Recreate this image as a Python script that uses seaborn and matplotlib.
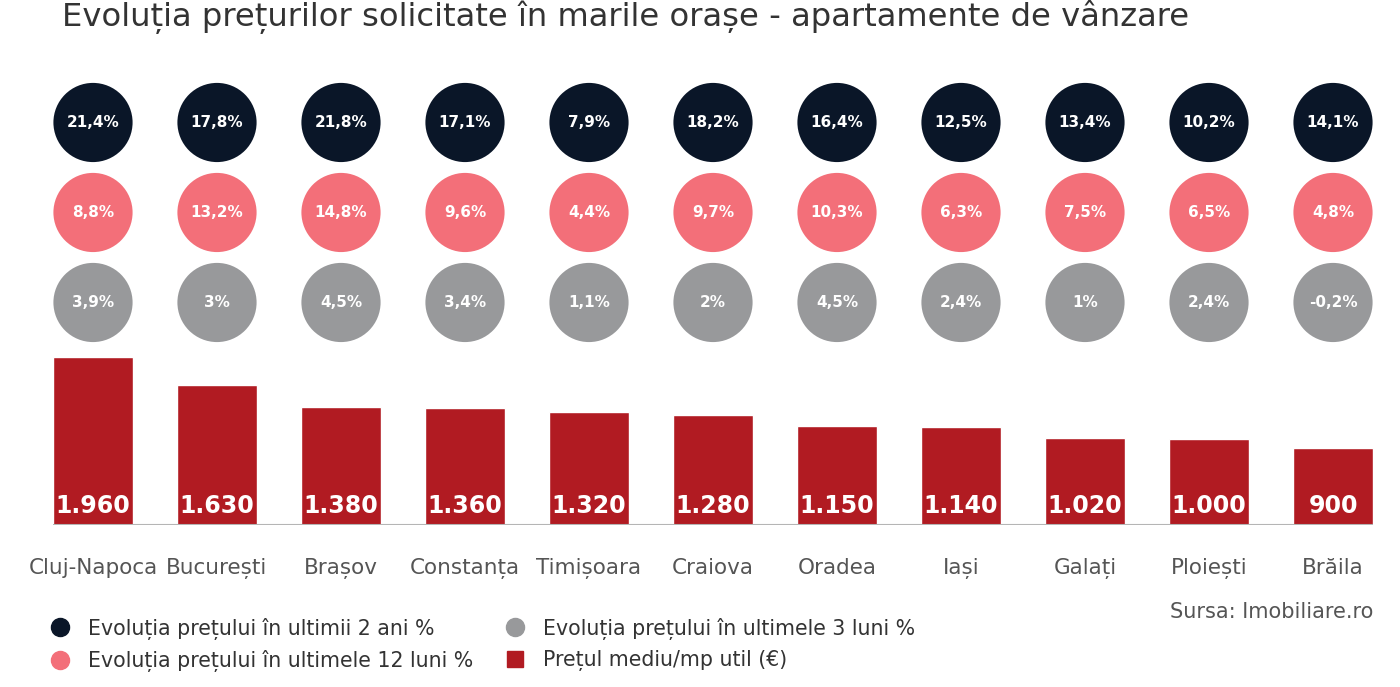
import numpy as np
import pandas as pd
import matplotlib
matplotlib.use('Agg')
import matplotlib.pyplot as plt
import seaborn as sns
from matplotlib.lines import Line2D

# ── Data ─────────────────────────────────────────
cities = ['Cluj-Napoca', 'București', 'Brașov', 'Constanța', 'Timișoara',
          'Craiova', 'Oradea', 'Iași', 'Galați', 'Ploiești', 'Brăila']
price_sqm = [1960, 1630, 1380, 1360, 1320, 1280, 1150, 1140, 1020, 1000, 900]
change_2y = [21.4, 17.8, 21.8, 17.1, 7.9, 18.2, 16.4, 12.5, 13.4, 10.2, 14.1]
change_12m = [8.8, 13.2, 14.8, 9.6, 4.4, 9.7, 10.3, 6.3, 7.5, 6.5, 4.8]
change_3m = [3.9, 3.0, 4.5, 3.4, 1.1, 2.0, 4.5, 2.4, 1.0, 2.4, -0.2]

series_names = ['Evoluția prețului în ultimii 2 ani %',
                'Evoluția prețului în ultimele 12 luni %',
                'Evoluția prețului în ultimele 3 luni %']
bar_name = 'Prețul mediu/mp util (€)'
title = 'Evoluția prețurilor solicitate în marile orașe - apartamente de vânzare'
source = 'Sursa: Imobiliare.ro'

DARK = '#0a1628'
PINK = '#f36f79'
GREY = '#98999b'
RED = '#b11b22'
TXT = '#555555'

sns.set_style('white')
plt.rcParams['font.family'] = ['DejaVu Sans']

fig = plt.figure(figsize=(14, 6.87), dpi=100)

# ── Bars ─────────────────────────────────────────
ax = fig.add_axes([0.02214, 0.2358, 0.97429, 0.2495])
bw = 0.645
sns.barplot(x=cities, y=price_sqm, color=RED, width=bw, saturation=1, ax=ax)
ax.set_xlim(-0.5, len(cities) - 0.5)
ax.set_ylim(0, 2000)
ax.hlines(0, -bw / 2, len(cities) - 1 + bw / 2, color='#b5b5b5', lw=1.5, zorder=3)
for s in ax.spines.values():
    s.set_visible(False)
ax.set_yticks([])
ax.tick_params(axis='x', length=0, pad=24, labelsize=15.5, labelcolor=TXT)
for i, v in enumerate(price_sqm):
    ax.annotate(f'{v:,}'.replace(',', '.'), xy=(i, 0), xytext=(0, 5),
                textcoords='offset points', ha='center', va='bottom',
                color='white', fontsize=17, fontweight='bold')

# ── Circles ──────────────────────────────────────
rows = pd.DataFrame({
    'pos': np.tile(np.arange(len(cities)), 3),
    'row': np.repeat([0, 1, 2], len(cities)),
    'series': np.repeat(series_names, len(cities)),
    'value': change_2y + change_12m + change_3m,
})
cax = fig.add_axes([0.02214, 0.4942, 0.97429, 0.3930], sharex=ax)
sns.scatterplot(data=rows, x='pos', y='row', hue='series',
                palette=[DARK, PINK, GREY], s=3250, linewidth=0,
                legend=False, ax=cax)
cax.set_ylim(2.5, -0.5)
cax.axis('off')
for _, r in rows.iterrows():
    lab = f"{r['value']:g}".replace('.', ',') + '%'
    cax.text(r['pos'], r['row'], lab, ha='center', va='center',
             color='white', fontsize=11, fontweight='bold')

# ── Title, legend, source ────────────────────────
fig.text(62 / 1400, 1 - 17 / 687, title, ha='left', va='center',
         fontsize=23.2, color='#333333')
fig.text(1373 / 1400, 1 - 612 / 687, source, ha='right', va='center',
         fontsize=15, color=TXT)

handles = [Line2D([], [], marker='o', ls='', color=DARK, markersize=13),
           Line2D([], [], marker='o', ls='', color=PINK, markersize=13),
           Line2D([], [], marker='o', ls='', color=GREY, markersize=13),
           Line2D([], [], marker='s', ls='', color=RED, markersize=12)]
labels = [series_names[0], series_names[1], series_names[2], bar_name]
fig.legend(handles, labels, ncol=2, loc='upper left',
           bbox_to_anchor=(29 / 1400, 1 - 599 / 687), frameon=False,
           fontsize=14.8, handlelength=1.2, handletextpad=0.78, columnspacing=1.4,
           labelspacing=0.5, labelcolor='#333333')

fig.savefig('out.png', dpi=100)
